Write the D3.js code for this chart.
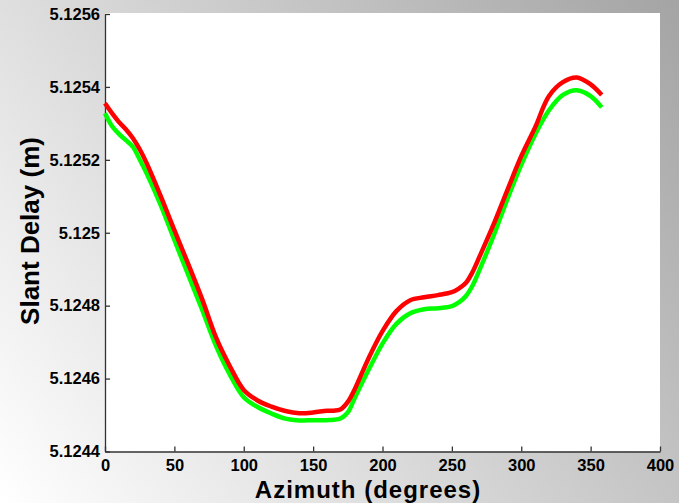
<html>
<head>
<style>
body { margin: 0; }
svg text { font-family: "Liberation Sans", Arial, sans-serif; font-weight: bold; fill: #000; }
</style>
</head>
<body>
<svg id="chart" width="679" height="503"></svg>
<script src="https://cdn.jsdelivr.net/npm/d3@7"></script>
<script>
// azimuth samples (degrees)
const azimuth = [0, 5, 10, 15, 20, 25, 30, 40, 50, 60, 70, 80, 90, 100, 110, 120, 130, 140, 150, 160, 165, 170, 175, 180,
  190, 200, 210, 220, 230, 240, 250, 255, 260, 265, 270, 280, 290, 300, 310, 320, 330, 340, 350, 358];

// red curve, slant delay (m)
const delayRed = [5.125355, 5.125328, 5.125304, 5.125284, 5.125260, 5.125229, 5.125191, 5.125102, 5.125007, 5.124914,
  5.124818, 5.124713, 5.124634, 5.124569, 5.124540, 5.124523, 5.124511, 5.124505, 5.124507, 5.124512, 5.124512,
  5.124516, 5.124536, 5.124571, 5.124656, 5.124730, 5.124785, 5.124815, 5.124823, 5.124829, 5.124837, 5.124847,
  5.124862, 5.124893, 5.124935, 5.125022, 5.125117, 5.125210, 5.125289, 5.125375, 5.125413, 5.125426, 5.125407, 5.125378];

// green curve, slant delay (m)
const delayGreen = [5.125328, 5.125293, 5.125271, 5.125254, 5.125236, 5.125201, 5.125163, 5.125077, 5.124980, 5.124884,
  5.124789, 5.124690, 5.124611, 5.124549, 5.124522, 5.124504, 5.124490, 5.124485, 5.124486, 5.124486, 5.124487,
  5.124491, 5.124507, 5.124547, 5.124624, 5.124696, 5.124750, 5.124779, 5.124790, 5.124793, 5.124799, 5.124809,
  5.124826, 5.124856, 5.124899, 5.124991, 5.125092, 5.125186, 5.125269, 5.125336, 5.125378, 5.125391, 5.125375, 5.125344];

const xTicks = [0, 50, 100, 150, 200, 250, 300, 350, 400];
const yTicks = [5.1244, 5.1246, 5.1248, 5.125, 5.1252, 5.1254, 5.1256];
const yTickLabels = ["5.1244", "5.1246", "5.1248", "5.125", "5.1252", "5.1254", "5.1256"];

const svg = d3.select("#chart");
const plotLeft = 105, plotRight = 660, plotTop = 14, plotBottom = 451.5;

// gradient background
const defs = svg.append("defs");
const grad = defs.append("linearGradient")
  .attr("id", "bg")
  .attr("gradientUnits", "userSpaceOnUse")
  .attr("x1", 0).attr("y1", 503).attr("x2", 679).attr("y2", 0);
grad.append("stop").attr("offset", "0").attr("stop-color", "#ffffff");
grad.append("stop").attr("offset", "1").attr("stop-color", "#a4a4a4");
svg.append("rect").attr("width", 679).attr("height", 503).attr("fill", "url(#bg)");

// plot area
svg.append("rect")
  .attr("x", plotLeft).attr("y", 13)
  .attr("width", plotRight - plotLeft).attr("height", plotBottom - 13)
  .attr("fill", "#fff");

const x = d3.scaleLinear().domain([0, 400]).range([plotLeft, plotRight]);
const y = d3.scaleLinear().domain([5.1244, 5.1256]).range([plotBottom, plotTop]);

const xAxis = d3.axisBottom(x).tickValues(xTicks).tickSizeInner(-5).tickSizeOuter(0).tickPadding(8);
const yAxis = d3.axisLeft(y).tickValues(yTicks).tickSizeInner(-5).tickSizeOuter(0).tickPadding(10)
  .tickFormat((d, i) => yTickLabels[i]);

const gx = svg.append("g").attr("transform", `translate(0,${plotBottom})`).call(xAxis);
const gy = svg.append("g").attr("transform", `translate(${plotLeft},0)`).call(yAxis);

[gx, gy].forEach(g => {
  g.select(".domain").attr("stroke", "#333").attr("stroke-width", 1.3);
  g.selectAll(".tick line").attr("stroke", "#333").attr("stroke-width", 1.3);
  g.selectAll(".tick text")
    .attr("font-family", "Liberation Sans, Arial, sans-serif")
    .attr("font-weight", "bold")
    .attr("font-size", 16.5)
    .attr("fill", "#000");
});
gy.selectAll(".tick text").attr("x", -5);

const line = d3.line()
  .x((d, i) => x(azimuth[i]))
  .y(d => y(d))
  .curve(d3.curveCatmullRom);

svg.append("path")
  .datum(delayGreen)
  .attr("d", line)
  .attr("fill", "none")
  .attr("stroke", "#00ff00")
  .attr("stroke-width", 4.5);

svg.append("path")
  .datum(delayRed)
  .attr("d", line)
  .attr("fill", "none")
  .attr("stroke", "#ff0000")
  .attr("stroke-width", 4.5);

// axis titles
svg.append("text")
  .attr("x", 368).attr("y", 497.5)
  .attr("text-anchor", "middle")
  .attr("font-size", 24)
  .attr("letter-spacing", 1)
  .text("Azimuth (degrees)");

svg.append("text")
  .attr("transform", `translate(39,231) rotate(-90)`)
  .attr("text-anchor", "middle")
  .attr("font-size", 26)
  .text("Slant Delay (m)");
</script>
</body>
</html>
